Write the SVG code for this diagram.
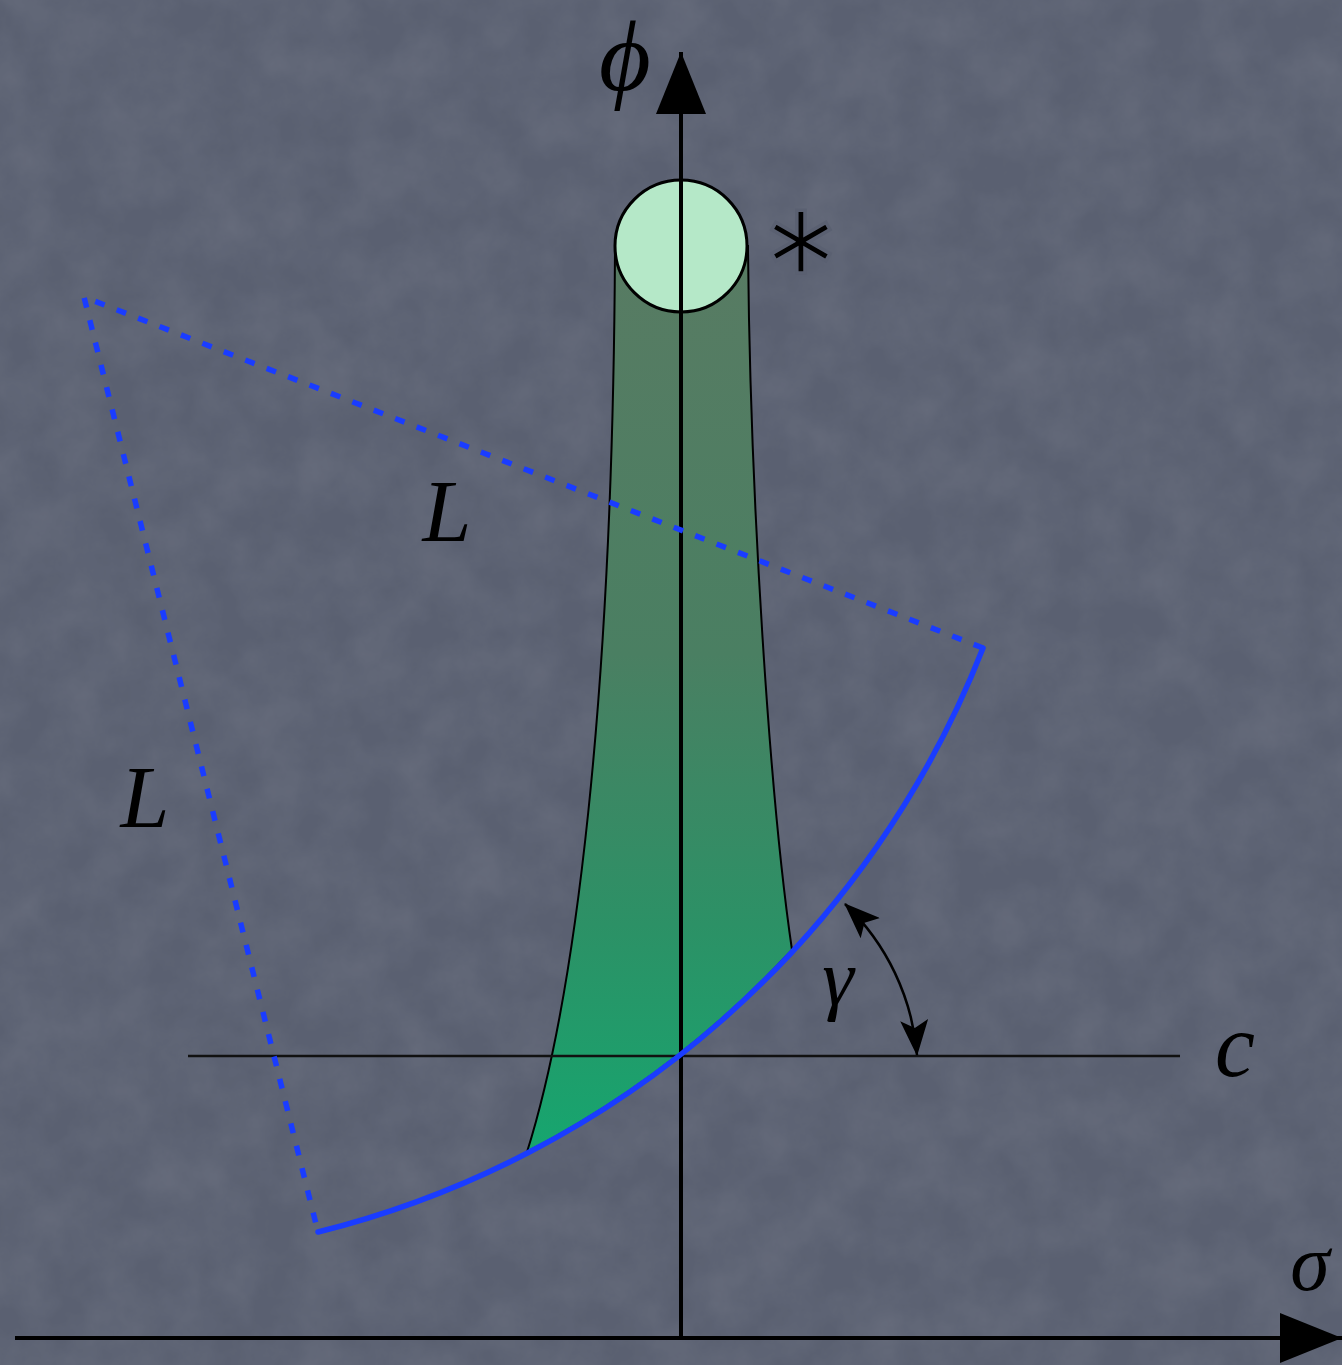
<svg xmlns="http://www.w3.org/2000/svg" width="1342" height="1365" viewBox="0 0 1342 1365">
  <style>
    .axis { stroke: #000; stroke-width: 4; fill: none; }
    .thin { stroke: #111; stroke-width: 2.4; fill: none; }
    .blue { stroke: #1a3cff; stroke-width: 5.5; fill: none; stroke-linecap: round; stroke-linejoin: round; }
    .dash { stroke: #1a3cff; stroke-width: 5.5; fill: none; stroke-dasharray: 10 13; stroke-linejoin: round; }
    .math { font-family: "Liberation Serif", "DejaVu Serif", serif; font-style: italic; fill: #000; }
  </style>
  <defs>
    <linearGradient id="tubeGrad" gradientUnits="userSpaceOnUse" x1="0" y1="246" x2="0" y2="1152">
      <stop offset="0" stop-color="#587b63"/>
      <stop offset="0.45" stop-color="#4a7f62"/>
      <stop offset="0.75" stop-color="#2c9166"/>
      <stop offset="1" stop-color="#16a66f"/>
    </linearGradient>
    <filter id="grain" x="0" y="0" width="100%" height="100%">
      <feTurbulence type="fractalNoise" baseFrequency="0.02" numOctaves="5" seed="7"/>
      <feColorMatrix type="matrix" values="0 0 0 0 1  0 0 0 0 1  0 0 0 0 1  0 0 0 0.3 -0.08"/>
    </filter>
    <marker id="axisHead" viewBox="0 0 62 50" refX="62" refY="25" markerWidth="62" markerHeight="50" markerUnits="userSpaceOnUse" orient="auto">
      <path d="M0,0 L62,25 L0,50 Z" fill="#000"/>
    </marker>
    <marker id="smallHead" viewBox="0 0 36 28" refX="35" refY="14" markerWidth="36" markerHeight="28" markerUnits="userSpaceOnUse" orient="auto-start-reverse">
      <path d="M0,0 L36,14 L0,28 L8,14 Z" fill="#000"/>
    </marker>
  </defs>

  <g id="background">
    <rect x="0" y="0" width="1342" height="1365" fill="#5a6071"/>
    <rect x="0" y="0" width="1342" height="1365" filter="url(#grain)" opacity="0.35"/>
  </g>

  <g id="tube">
    <path d="M615,246 C613,700 575,1000 527,1152 A965,965 0 0 0 792,950 C770,800 750,500 748,246 Z" fill="url(#tubeGrad)" stroke="#000" stroke-width="2"/>
  </g>

  <g id="vacuum">
    <circle cx="681" cy="246" r="66" fill="#b5e8c8" stroke="#000" stroke-width="3"/>
  </g>

  <g id="connectors">
    <line class="thin" x1="188" y1="1056" x2="1180" y2="1056"/>
    <line class="axis" x1="681" y1="1340" x2="681" y2="52" marker-end="url(#axisHead)"/>
    <line class="axis" x1="15" y1="1338" x2="1342" y2="1338" marker-end="url(#axisHead)"/>
    <path class="dash" d="M983,648 L84,297 L318,1232"/>
    <path class="blue" d="M318,1232 A965,965 0 0 0 983,648"/>
    <path d="M845,904 A235,235 0 0 1 917,1055" stroke="#000" stroke-width="2.5" fill="none" marker-start="url(#smallHead)" marker-end="url(#smallHead)"/>
  </g>

  <g id="labels">
    <text class="math" x="625" y="90" font-size="100" text-anchor="middle">ϕ</text>
    <text class="math" x="1310" y="1290" font-size="80" text-anchor="middle">σ</text>
    <text class="math" x="1235" y="1076" font-size="90" text-anchor="middle">c</text>
    <text class="math" x="447" y="541" font-size="88" text-anchor="middle">L</text>
    <text class="math" x="145" y="827" font-size="88" text-anchor="middle">L</text>
    <text class="math" x="838" y="1005" font-size="80" text-anchor="middle">γ</text>
    <text x="801" y="273" font-family="DejaVu Sans, sans-serif" font-size="100" text-anchor="middle" fill="#000" stroke="#5a6071" stroke-width="3.5">∗</text>
  </g>
</svg>
